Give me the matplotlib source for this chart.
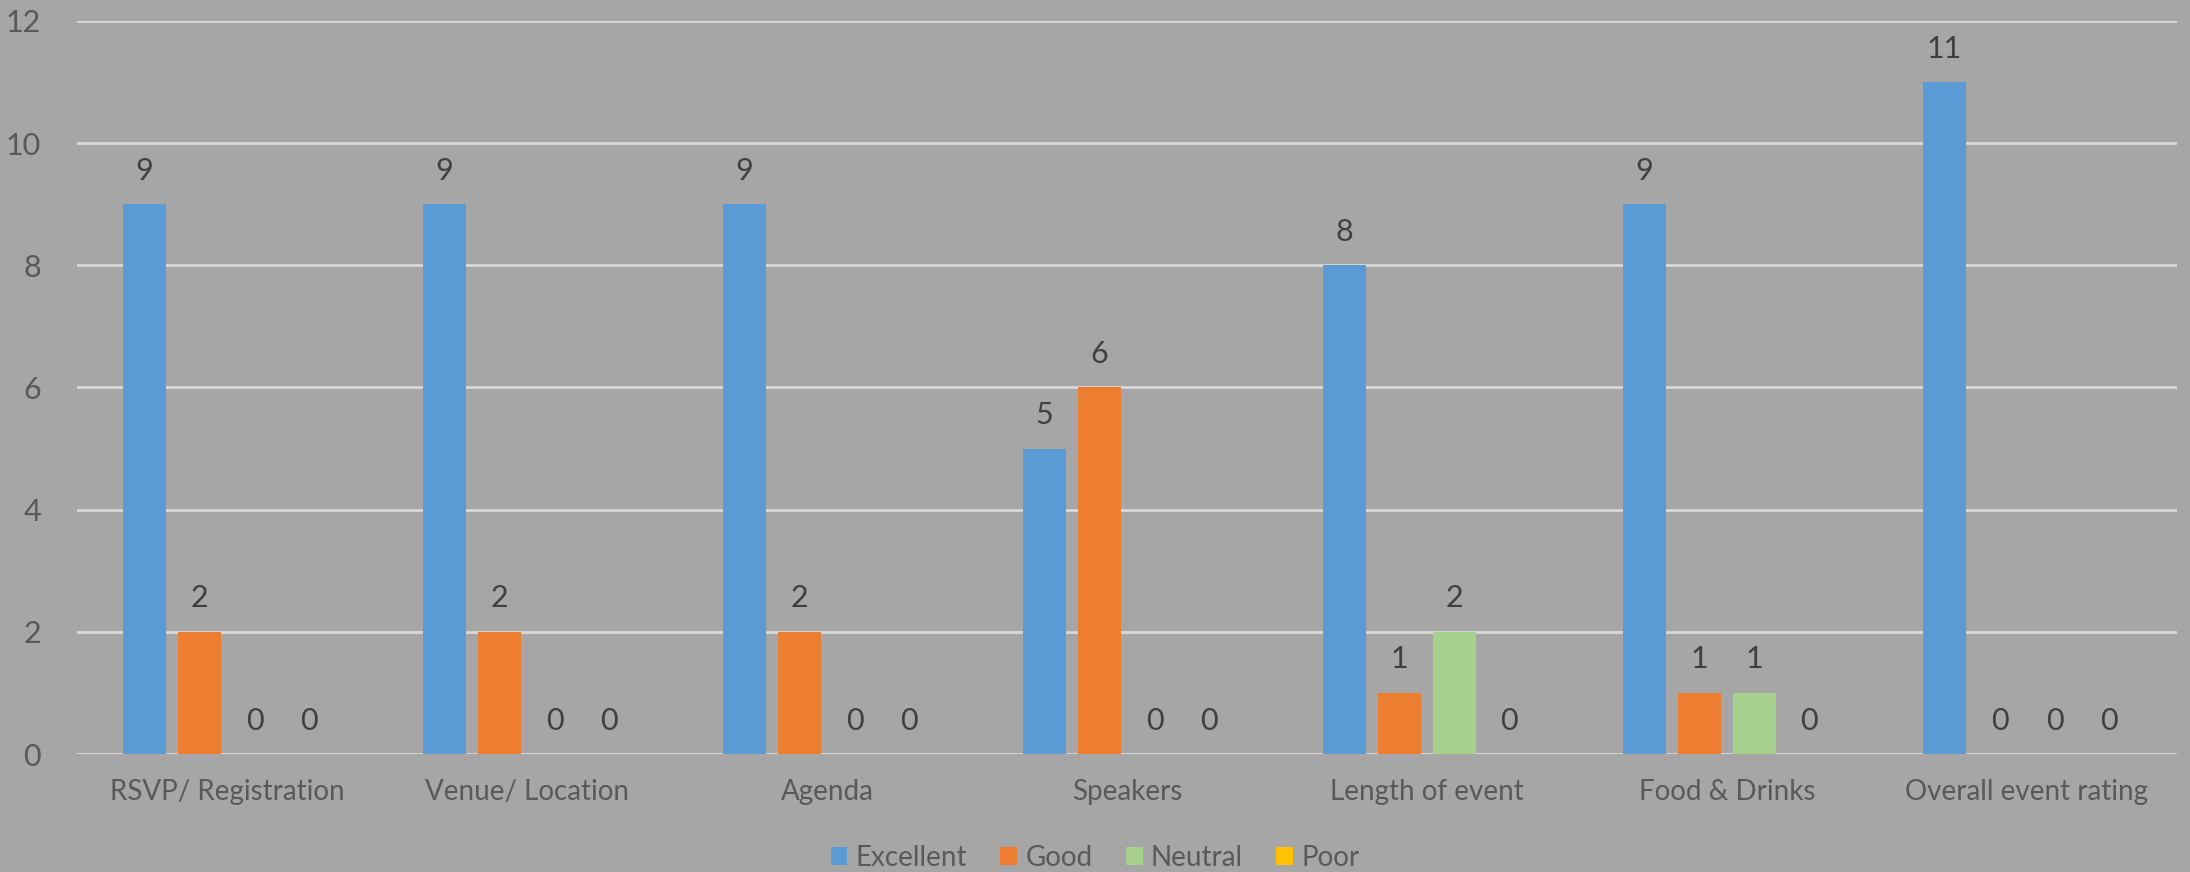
import numpy as np
import matplotlib.pyplot as plt

# Datos de la encuesta
categorias = ['RSVP/ Registration', 'Venue/ Location', 'Agenda', 'Speakers',
              'Length of event', 'Food & Drinks', 'Overall event rating']
series = ['Excellent', 'Good', 'Neutral', 'Poor']
excellent = [9, 9, 9, 5, 8, 9, 11]
good = [2, 2, 2, 6, 1, 1, 0]
neutral = [0, 0, 0, 0, 2, 1, 0]
poor = [0, 0, 0, 0, 0, 0, 0]

colores = ['#5B9BD5', '#ED7D31', '#A9D18E', '#FFC000']
fondo = '#A6A6A6'

plt.rcParams['font.family'] = ['Lato', 'DejaVu Sans']

fig = plt.figure(figsize=(21.9, 8.72), dpi=100, facecolor=fondo)
ax = fig.add_axes([77 / 2190, 1 - 754 / 872, 2100 / 2190, 733 / 872])
ax.set_facecolor(fondo)

x = np.arange(len(categorias))
ancho = 0.143
paso = 0.183
valores = [excellent, good, neutral, poor]

# Barras agrupadas con etiquetas de valor
for i, (nombre, vals) in enumerate(zip(series, valores)):
    pos = x + (i - 1.5) * paso
    barras = ax.bar(pos, vals, ancho, color=colores[i], label=nombre, zorder=3)
    for j, b in enumerate(barras):
        ax.annotate(str(vals[j]), (b.get_x() + b.get_width() / 2, vals[j]),
                    xytext=(0, 14), textcoords='offset points',
                    ha='center', va='bottom', fontsize=22, color='#404040')

ax.set_xlim(-0.5, len(categorias) - 0.5)
ax.set_ylim(0, 12)
ax.set_yticks(range(0, 13, 2))
ax.yaxis.grid(True, color='#D9D9D9', linewidth=2, zorder=0)
ax.set_xticks(x)
ax.set_xticklabels(categorias)
ax.tick_params(axis='x', length=0, labelsize=20, colors='#595959', pad=18)
ax.tick_params(axis='y', length=0, labelsize=22, colors='#595959', pad=26)
for s in ax.spines.values():
    s.set_visible(False)

# Leyenda abajo en el centro
fig.legend(loc='center', bbox_to_anchor=(0.5, 1 - 858 / 872), ncol=4,
           frameon=False, fontsize=20, handlelength=0.6, handleheight=0.6,
           handletextpad=0.3, columnspacing=1.2, labelcolor='#595959',
           borderpad=0, borderaxespad=0)

fig.savefig('out.png', dpi=100, facecolor=fondo)
